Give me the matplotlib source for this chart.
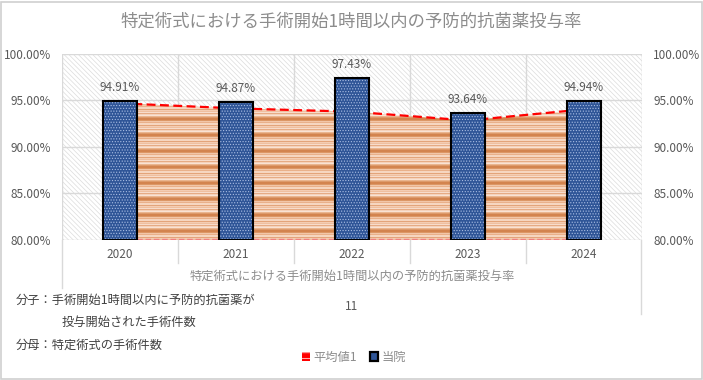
import numpy as np
import matplotlib
matplotlib.use('Agg')
import matplotlib.pyplot as plt
from matplotlib.patches import Polygon, Rectangle, Patch
from matplotlib.lines import Line2D

plt.rcParams['font.family'] = ['Noto Sans CJK JP', 'DejaVu Sans']
plt.rcParams['hatch.linewidth'] = 0.5

# data
years = ['2020', '2021', '2022', '2023', '2024']
hospital = [94.91, 94.87, 97.43, 93.64, 94.94]   # 当院
average = [94.7, 94.15, 93.8, 92.85, 94.05]      # 平均値1
yticks = [80, 85, 90, 95, 100]
title = '特定術式における手術開始1時間以内の予防的抗菌薬投与率'

W, H = 703, 380
fig = plt.figure(figsize=(W / 100, H / 100), dpi=100)
fig.patch.set_facecolor('white')
fig.add_artist(Rectangle((0.5 / W, 1 / H), (W - 2) / W, (H - 3) / H, transform=fig.transFigure,
                         fill=False, edgecolor='#d0d0d0', lw=1.2))

ax = fig.add_axes([62 / W, 1 - 240 / H, 580 / W, 186 / H])
x = np.arange(len(years))
ax.set_xlim(-0.5, len(years) - 0.5)
ax.set_ylim(80, 100)

# hatched plot area background
ax.add_patch(Rectangle((-0.5, 80), len(years), 20, facecolor='white', edgecolor='#dcdcdc',
                       hatch='\\\\\\\\\\\\\\', lw=0, zorder=0))

# grid
for v in yticks:
    ax.axhline(v, color='#d9d9d9', lw=1, zorder=1)
for b in np.arange(-0.5, len(years), 1.0):
    ax.axvline(b, color='#d9d9d9', lw=1, zorder=1)

# striped area for the average
cols = ['#d3844f', '#d3844f', '#dc9766', '#f2c6a8', '#e9b08a', '#f6d6c0', '#f6d6c0',
        '#e3a47a', '#f4cdb3', '#efbf9f', '#f7dccb', '#e6ab84', '#f5d2bb', '#f9e2d3',
        '#eab58f', '#dd9a6b']
rgb = np.array([matplotlib.colors.to_rgb(c) for c in cols])
nrows = 186
stripe = rgb[np.arange(nrows) % len(cols)][:, None, :]
im = ax.imshow(stripe, extent=(-0.5, len(years) - 0.5, 80, 100), aspect='auto',
               interpolation='nearest', origin='upper', zorder=2)
poly = Polygon(list(zip(x, average)) + [(x[-1], 80), (x[0], 80)], closed=True,
               facecolor='none', edgecolor='none', transform=ax.transData)
ax.add_patch(poly)
im.set_clip_path(poly)
ax.plot(x, average, color='#ff0000', ls=(0, (4, 2)), lw=1.6, zorder=3)
ax.plot([x[0], x[-1]], [80.1, 80.1], color='#f08080', ls=(0, (4, 2)), lw=1.0, zorder=3)

# bars for the hospital
bw = 0.295
ax.bar(x, [h - 80 for h in hospital], bottom=80, width=bw, color='#2f5597',
       edgecolor='#a9bde3', hatch='......', lw=0, zorder=4)
ax.bar(x, [h - 80 for h in hospital], bottom=80, width=bw, fill=False,
       edgecolor='black', lw=1.5, zorder=5)
for xi, h in zip(x, hospital):
    ax.annotate(f'{h:.2f}%', (xi, h), xytext=(0, 5), textcoords='offset points',
                ha='center', va='bottom', fontsize=8.5, color='#595959')

# axes styling
for s in ax.spines.values():
    s.set_visible(False)
ax.set_yticks(yticks)
ax.set_yticklabels([f'{v:.2f}%' for v in yticks])
ax.tick_params(axis='y', length=0, labelleft=True, labelright=True, labelsize=8.5,
               labelcolor='#595959', pad=8)
ax.set_xticks(x)
ax.set_xticklabels(years)
ax.tick_params(axis='x', length=0, labelsize=8.5, labelcolor='#595959', pad=6)

# category-axis dividers below the plot
def fy(py):
    return 1 - py / H

for b in range(1, len(years)):
    px = 62 + b * 116
    fig.add_artist(Line2D([px / W, px / W], [fy(240), fy(263)], color='#d9d9d9', lw=1))
fig.add_artist(Line2D([62 / W, 62 / W], [fy(240), fy(288)], color='#d9d9d9', lw=1))
fig.add_artist(Line2D([641 / W, 641 / W], [fy(240), fy(314)], color='#d9d9d9', lw=1))

fig.text(351 / W, fy(22), title, ha='center', va='center', fontsize=12.5, color='#8c8c8c')
fig.text(352 / W, fy(276), title, ha='center', va='center', fontsize=8.8, color='#8c8c8c')
fig.text(352 / W, fy(307), '11', ha='center', va='center', fontsize=8.5, color='#595959')
fig.text(16 / W, fy(300), '分子：手術開始1時間以内に予防的抗菌薬が', ha='left', va='center',
         fontsize=8.8, color='#404040')
fig.text(62 / W, fy(322), '投与開始された手術件数', ha='left', va='center',
         fontsize=8.8, color='#404040')
fig.text(16 / W, fy(345), '分母：特定術式の手術件数', ha='left', va='center',
         fontsize=8.8, color='#404040')

handles = [Patch(facecolor='#ff0000', edgecolor='white', hatch='---', lw=0),
           Patch(facecolor='#2f5597', edgecolor='black', lw=1.6)]
fig.legend(handles, ['平均値1', '当院'], loc='center', bbox_to_anchor=(354 / W, fy(357)),
           ncol=2, frameon=False, fontsize=8.8, labelcolor='#8c8c8c', handlelength=0.7,
           handleheight=0.7, handletextpad=0.3, columnspacing=1.0)

fig.savefig('out.png', dpi=100)
